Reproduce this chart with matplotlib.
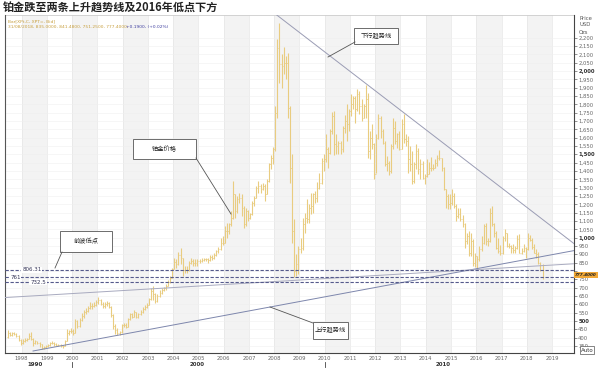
import matplotlib
matplotlib.use("Agg")
import matplotlib.pyplot as plt
from matplotlib.patches import Rectangle
from matplotlib.lines import Line2D
import numpy as np
import pandas as pd

plt.rcParams['font.family'] = ['Noto Sans CJK SC', 'DejaVu Sans']

# monthly platinum bars, Jun 1997 .. Aug 2018
first_open = 405
close = [430, 418, 425, 424, 412, 385, 368,
         382, 388, 392, 412, 390, 365, 378, 368, 360, 338, 346, 350,
         358, 366, 370, 360, 355, 358, 350, 352, 380, 428, 438, 440,
         430, 500, 470, 508, 530, 556, 560, 578, 590, 590, 598, 612,
         628, 600, 590, 600, 605, 585, 535, 470, 448, 425, 432, 475,
         478, 465, 510, 540, 525, 555, 525, 540, 555, 570, 585, 598,
         630, 682, 662, 622, 650, 665, 684, 696, 710, 736, 755, 812,
         852, 840, 898, 878, 808, 805, 806, 845, 860, 850, 848, 858,
         860, 866, 870, 870, 865, 885, 880, 895, 918, 930, 968, 966,
         1040, 1040, 1080, 1120, 1260, 1160, 1232, 1240, 1175, 1080, 1160, 1118,
         1140, 1210, 1240, 1300, 1310, 1290, 1310, 1260, 1340, 1440, 1480, 1530,
         1750, 2140, 2040, 2030, 2050, 2050, 1780, 1420, 1040, 800, 840, 930,
         940, 1080, 1120, 1110, 1180, 1190, 1260, 1240, 1300, 1330, 1460, 1470,
         1530, 1510, 1640, 1730, 1560, 1550, 1570, 1530, 1660, 1700, 1680, 1760,
         1800, 1840, 1770, 1860, 1790, 1720, 1790, 1830, 1520, 1600, 1560, 1380,
         1600, 1720, 1640, 1570, 1440, 1450, 1400, 1550, 1660, 1580, 1620, 1530,
         1680, 1590, 1580, 1470, 1440, 1340, 1440, 1520, 1410, 1440, 1360, 1370,
         1380, 1420, 1420, 1420, 1450, 1480, 1480, 1420, 1290, 1250, 1200, 1210,
         1250, 1190, 1130, 1140, 1110, 1080, 980, 1010, 910, 980, 850, 890,
         870, 930, 970, 1070, 980, 980, 1150, 1080, 1030, 940, 920, 905,
         995, 1030, 950, 950, 940, 925, 935, 990, 910, 920, 940, 930,
         1000, 985, 945, 910, 900, 850, 835, 777.4]
high = [445, 435, 432, 432, 428, 415, 392,
        390, 398, 400, 425, 432, 395, 385, 380, 372, 362, 352, 358,
        362, 372, 378, 375, 365, 362, 362, 358, 388, 450, 448, 460,
        452, 510, 505, 515, 545, 565, 575, 588, 612, 605, 612, 625,
        645, 630, 612, 615, 620, 612, 590, 540, 480, 460, 440, 482,
        490, 485, 520, 545, 545, 565, 555, 550, 565, 582, 595, 605,
        640, 700, 708, 665, 660, 685, 695, 705, 720, 745, 768, 815,
        880, 870, 915, 936, 880, 830, 830, 860, 875, 870, 870, 870,
        870, 875, 880, 880, 880, 895, 895, 905, 928, 945, 1000, 1010,
        1070, 1085, 1085, 1160, 1340, 1260, 1250, 1265, 1260, 1190, 1180, 1165,
        1150, 1222, 1250, 1310, 1340, 1320, 1330, 1320, 1350, 1450, 1495, 1545,
        1790, 2190, 2290, 2100, 2145, 2090, 2110, 1790, 1500, 1110, 900, 950,
        1000, 1115, 1150, 1230, 1200, 1265, 1265, 1280, 1335, 1390, 1480, 1500,
        1620, 1545, 1650, 1755, 1760, 1620, 1580, 1580, 1670, 1735, 1800, 1770,
        1860, 1850, 1850, 1890, 1880, 1830, 1800, 1918, 1870, 1640, 1680, 1570,
        1620, 1740, 1730, 1650, 1580, 1490, 1460, 1560, 1720, 1700, 1630, 1640,
        1710, 1740, 1620, 1610, 1550, 1520, 1455, 1560, 1540, 1470, 1460, 1380,
        1470, 1455, 1485, 1440, 1475, 1495, 1525, 1480, 1425, 1290, 1260, 1260,
        1290, 1270, 1200, 1175, 1175, 1135, 1090, 1030, 1040, 1025, 990, 905,
        890, 950, 1010, 1080, 1090, 1000, 1180, 1190, 1085, 1040, 995, 955,
        1010, 1050, 1030, 970, 955, 960, 950, 1015, 1020, 940, 960, 945,
        1025, 1015, 1000, 960, 930, 915, 855, 841.48]
low = [398, 410, 412, 415, 405, 378, 355,
       360, 375, 380, 390, 385, 350, 360, 360, 345, 330, 332, 340,
       345, 352, 360, 352, 348, 350, 345, 340, 350, 378, 415, 425,
       418, 428, 460, 465, 500, 520, 540, 555, 570, 570, 585, 592,
       600, 595, 575, 580, 590, 575, 525, 450, 420, 415, 415, 428,
       465, 455, 462, 505, 515, 522, 515, 520, 535, 550, 565, 580,
       596, 625, 625, 610, 615, 645, 660, 680, 685, 710, 730, 755,
       810, 820, 835, 840, 770, 790, 790, 800, 840, 830, 830, 830,
       850, 855, 858, 858, 850, 860, 865, 870, 890, 910, 928, 955,
       965, 1000, 1020, 1070, 1110, 1120, 1150, 1210, 1130, 1060, 1070, 1100,
       1110, 1135, 1190, 1235, 1270, 1265, 1285, 1220, 1260, 1335, 1410, 1440,
       1520, 1720, 1930, 1900, 1985, 1950, 1720, 1330, 970, 763, 770, 780,
       910, 925, 1030, 1085, 1085, 1140, 1145, 1210, 1215, 1290, 1320, 1400,
       1455, 1420, 1500, 1620, 1495, 1500, 1505, 1505, 1515, 1630, 1580, 1640,
       1730, 1770, 1690, 1760, 1740, 1700, 1720, 1720, 1480, 1470, 1530, 1350,
       1390, 1595, 1600, 1560, 1430, 1400, 1375, 1390, 1530, 1565, 1540, 1525,
       1530, 1570, 1550, 1390, 1400, 1320, 1330, 1410, 1380, 1355, 1350, 1325,
       1365, 1380, 1400, 1405, 1420, 1430, 1465, 1400, 1285, 1175, 1170, 1170,
       1195, 1180, 1100, 1115, 1100, 1065, 935, 960, 890, 890, 830, 825,
       806.31, 860, 920, 960, 955, 950, 975, 1070, 1005, 930, 910, 895,
       900, 980, 945, 940, 910, 910, 910, 930, 905, 900, 915, 875,
       925, 980, 930, 905, 880, 840, 800, 751.25]

levels = [806.31, 761, 732.5]
level_labels = ['806.31', '761', '732.5']
level_label_x = [1998.4, 1997.75, 1998.65]

# trend lines (year, price) endpoints
down_trend = [(2008.1, 2337), (2019.87, 964)]
up_trend_low = [(1998.45, 319), (2019.87, 922)]
up_trend_high = [(1997.34, 640), (2019.87, 843)]

years = list(range(1998, 2020))
decades = ['1990', '2000', '2010']
last_price = 777.4

W, H = 600, 368
fig = plt.figure(figsize=(6, 3.68), dpi=100)
fig.patch.set_facecolor('white')

def fx(x):
    return x / W

def fy(y):
    return 1 - y / H

ax = fig.add_axes([fx(5), fy(353), fx(574) - fx(5), fy(15) - fy(353)])
ax.set_xlim(1997.34, 2019.87)
ax.set_ylim(307, 2337)

# background year bands + grid
for yr in range(1996, 2021):
    if yr % 2 == 0:
        ax.axvspan(yr, yr + 1, color='#f3f3f3', lw=0, zorder=0)
    ax.axvline(yr, color='#e6e6e6', lw=0.5, zorder=0.5)
for v in range(350, 2250, 50):
    ax.axhline(v, color='#efefef', lw=0.4, zorder=0.5)

# OHLC bars
dates = pd.date_range('1997-06-01', periods=len(close), freq='MS')
x = dates.year + (dates.month - 0.5) / 12.0
opens = [first_open] + close[:-1]
bar_col = '#e9cc80'
ax.vlines(x, low, high, color=bar_col, lw=0.8, zorder=3)
ax.hlines(opens, x - 0.035, x, color=bar_col, lw=0.6, zorder=3)
ax.hlines(close, x, x + 0.035, color=bar_col, lw=0.6, zorder=3)

# trend lines
for pts, col, lw in [(down_trend, '#9a9cb4', 0.7),
                     (up_trend_low, '#7d86ac', 0.7),
                     (up_trend_high, '#a8aabf', 0.7)]:
    ax.plot([pts[0][0], pts[1][0]], [pts[0][1], pts[1][1]], color=col, lw=lw, zorder=4)

# support levels
for v, lab, lx in zip(levels, level_labels, level_label_x):
    ax.axhline(v, color='#555a8c', lw=0.8, ls=(0, (3, 1.5)), zorder=5)
    ax.text(lx, v, lab, fontsize=4, color='#333355', ha='center', va='center',
            family='DejaVu Sans', zorder=6,
            bbox=dict(boxstyle='square,pad=0.15', fc='white', ec='none'))

# axes styling
for s in ['top', 'bottom']:
    ax.spines[s].set_visible(False)
ax.spines['left'].set_color('#555555')
ax.spines['left'].set_linewidth(0.8)
ax.spines['right'].set_color('#444444')
ax.spines['right'].set_linewidth(0.8)
ax.axhline(2337, color='#cccccc', lw=0.6)
ax.yaxis.tick_right()
ticks = list(range(350, 2250, 50))
ax.set_yticks(ticks)
ax.set_yticklabels(['' if t == 800 else '{:,}'.format(t) for t in ticks])
ax.tick_params(axis='y', direction='out', length=2, width=0.5, colors='#666666',
               labelsize=3.8, pad=1)
for lab, t in zip(ax.get_yticklabels(), ticks):
    lab.set_family('DejaVu Sans')
    if t % 500 == 0:
        lab.set_fontweight('bold')
        lab.set_color('#333333')
ax.set_xticks([])

# bottom axis
fig.add_artist(Line2D([fx(5), fx(574)], [fy(353), fy(353)], color='#444444', lw=0.8))
for yr in years:
    px = ax.transData.transform((yr, 0))[0]
    fig.text(px / W, fy(358), str(yr), fontsize=3.8, color='#666666', ha='center',
             va='center', family='DejaVu Sans')
for d, px in zip(decades, [35, 197, 443]):
    fig.text(fx(px), fy(364.5), d, fontsize=4, color='#333333', ha='center',
             va='center', fontweight='bold', family='DejaVu Sans')
for yr in [2000, 2010]:
    px = ax.transData.transform((yr, 0))[0] / W
    fig.add_artist(Line2D([px, px], [fy(362), fy(367)], color='#444444', lw=0.6))

# last price tag
ax.text(1.002, last_price, '{:.4f}'.format(last_price), transform=ax.get_yaxis_transform(),
        fontsize=3.0, color='#222222', fontweight='bold', style='italic', ha='left',
        va='center', family='DejaVu Sans', zorder=10, clip_on=False,
        bbox=dict(boxstyle='square,pad=0.2', fc='#f2a836', ec='none'))

# header texts
fig.text(fx(3), fy(8), '铂金跌至两条上升趋势线及2016年低点下方', fontsize=8,
         fontweight='bold', color='#222222', ha='left', va='center')
fig.text(fx(8), fy(21), 'Bar[XPt,C, XPT=, Bid]', fontsize=3.2, color='#c8a040',
         ha='left', va='center', family='DejaVu Sans')
fig.text(fx(8), fy(27), '31/08/2018, 835.0000, 841.4800, 751.2500, 777.4000,',
         fontsize=3.2, color='#c8a040', ha='left', va='center', family='DejaVu Sans')
fig.text(fx(126), fy(27), '+0.1900, (+0.02%)', fontsize=3.2, color='#4040a0',
         ha='left', va='center', family='DejaVu Sans')
for i, t in enumerate(['Price', 'USD', 'Ozs']):
    fig.text(fx(579), fy(18 + i * 7), t, fontsize=3.8, color='#555555',
             ha='left', va='center', family='DejaVu Sans')
fig.text(fx(587), fy(350), 'Auto', fontsize=4, color='#333333', ha='center',
         va='center', family='DejaVu Sans',
         bbox=dict(boxstyle='square,pad=0.2', fc='white', ec='#555555', lw=0.5))

# callout boxes
callouts = [
    ('铂金价格', (133, 139, 63, 20), (196, 158), (231, 214)),
    ('前波低点', (60, 231, 52, 21), (62, 252), (55, 268)),
    ('下行趋势线', (354, 28, 44, 16), (355, 42), (328, 57)),
    ('上行趋势线', (313, 322, 35, 17), (313, 323), (270, 307)),
]
for txt, (bx, by, bw, bh), p0, p1 in callouts:
    fig.add_artist(Line2D([fx(p0[0]), fx(p1[0])], [fy(p0[1]), fy(p1[1])],
                          color='#555555', lw=0.6))
    fig.add_artist(Rectangle((fx(bx), fy(by + bh)), bw / W, bh / H,
                             transform=fig.transFigure, fc='white', ec='#555555', lw=0.6))
    fig.text(fx(bx + bw / 2), fy(by + bh / 2), txt, fontsize=4.5, color='#222222',
             ha='center', va='center')

fig.savefig('out.png', dpi=100)
